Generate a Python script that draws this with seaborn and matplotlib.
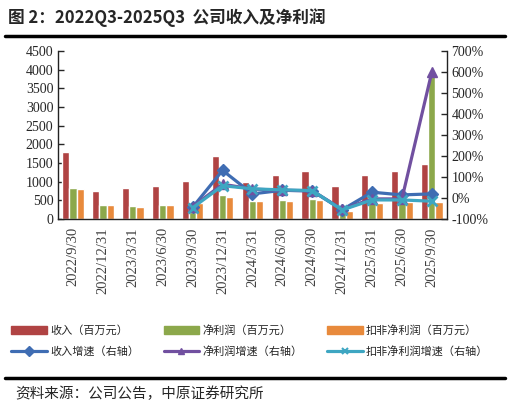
import numpy as np
import pandas as pd
import matplotlib
matplotlib.use("Agg")
import matplotlib.pyplot as plt
import seaborn as sns
from matplotlib.lines import Line2D
from matplotlib.patches import Patch
from matplotlib.ticker import FuncFormatter

sns.set_style("white")
plt.rcParams['font.family'] = ['Noto Sans CJK SC', 'DejaVu Sans']

# Data
dates = ["2022/9/30", "2022/12/31", "2023/3/31", "2023/6/30", "2023/9/30",
         "2023/12/31", "2024/3/31", "2024/6/30", "2024/9/30", "2024/12/31",
         "2025/3/31", "2025/6/30", "2025/9/30"]
revenue = [1790, 735, 815, 877, 1003, 1673, 992, 1175, 1280, 892, 1180, 1287, 1465]
net_profit = [840, 367, 332, 367, 180, 643, 466, 495, 535, 220, 443, 417, 3850]
net_profit_ded = [796, 367, 314, 367, 413, 590, 466, 470, 508, 200, 417, 443, 462]

# growth rates (right axis), starting from 2023/9/30
growth_idx = list(range(4, 13))
revenue_growth = [-0.45, 1.31, 0.19, 0.36, 0.33, -0.57, 0.27, 0.14, 0.19]
net_growth = [-0.42, 0.65, 0.42, 0.36, 0.34, -0.55, -0.05, -0.05, 6.0]
ded_growth = [-0.47, 0.58, 0.43, 0.38, 0.35, -0.58, -0.10, -0.10, -0.16]

bar_names = ["收入（百万元）", "净利润（百万元）", "扣非净利润（百万元）"]
line_names = ["收入增速（右轴）", "净利润增速（右轴）", "扣非净利润增速（右轴）"]
bar_colors = ["#B04343", "#8CA84B", "#E88A3C"]
line_colors = ["#3F6DB3", "#7150A0", "#3EA6C2"]

df = pd.DataFrame({
    "date": dates * 3,
    "value": revenue + net_profit + net_profit_ded,
    "series": [bar_names[0]] * 13 + [bar_names[1]] * 13 + [bar_names[2]] * 13,
})

fig = plt.figure(figsize=(5.1, 4.09), dpi=100)
ax = fig.add_axes([0.114, 0.465, 0.762, 0.41])

sns.barplot(data=df, x="date", y="value", hue="series", palette=bar_colors,
            width=0.72, gap=0.0, legend=False, ax=ax, saturation=1)

ax.set_ylim(0, 4500)
ax.set_yticks(np.arange(0, 4501, 500))
ax.set_xlim(-0.5, 12.5)
ax.set_xlabel("")
ax.set_ylabel("")
ax.set_xticks(np.arange(13))
ax.set_xticklabels(dates, rotation=90, family="Liberation Serif", fontsize=10.5, color="#404040")
ax.set_xticks(np.arange(-0.5, 13, 1), minor=True)
ax.tick_params(axis="x", which="major", length=0, pad=6)
ax.tick_params(axis="x", which="minor", direction="in", length=4, width=1)
ax.tick_params(axis="y", direction="in", length=4, width=1, labelsize=10)
for lbl in ax.get_yticklabels():
    lbl.set_family("Liberation Serif")
for s in ["left", "bottom"]:
    ax.spines[s].set_color("#222222")
    ax.spines[s].set_linewidth(1)
ax.spines["top"].set_visible(False)
ax.spines["right"].set_visible(False)

ax2 = ax.twinx()
markers = ["D", "^", "x"]
for vals, c, m in zip([revenue_growth, net_growth, ded_growth], line_colors, markers):
    ax2.plot(growth_idx, vals, color=c, lw=2.3, marker=m, markersize=6.5,
             markeredgewidth=2 if m == "x" else 1)
ax2.set_ylim(-1, 7)
ax2.set_yticks(np.arange(-1, 7.1, 1))
ax2.yaxis.set_major_formatter(FuncFormatter(lambda v, p: f"{v * 100:.0f}%"))
ax2.tick_params(axis="y", direction="in", length=4, width=1, labelsize=10)
for lbl in ax2.get_yticklabels():
    lbl.set_family("Liberation Serif")
ax2.spines["top"].set_visible(False)
ax2.spines["left"].set_visible(False)
ax2.spines["bottom"].set_visible(False)
ax2.spines["right"].set_color("#222222")
ax2.spines["right"].set_linewidth(1)
ax2.set_xlim(-0.5, 12.5)

# legend
handles = [Patch(color=c) for c in bar_colors]
handles += [Line2D([], [], color=c, lw=2.3, marker=m, markersize=5,
                   markeredgewidth=1.5 if m == "x" else 1)
            for c, m in zip(line_colors, markers)]
labels = bar_names + line_names
order = [0, 3, 1, 4, 2, 5]
fig.legend([handles[i] for i in order], [labels[i] for i in order],
           loc="center", bbox_to_anchor=(0.49, 0.166), ncol=3, frameon=False,
           fontsize=8, handlelength=3.2, columnspacing=2.2, handletextpad=0.3,
           labelspacing=0.9)

# title and rules
fig.text(0.016, 0.958, "图 2：2022Q3-2025Q3  公司收入及净利润", fontsize=12,
         fontweight="bold", va="center", ha="left")
fig.add_artist(Line2D([0.01, 0.99], [0.912, 0.912], color="black", lw=2.5))
fig.add_artist(Line2D([0.01, 0.99], [0.076, 0.076], color="black", lw=2.5))
fig.text(0.03, 0.038, "资料来源：公司公告，中原证券研究所", fontsize=10.5,
         va="center", ha="left")

fig.savefig("out.png", dpi=100)
